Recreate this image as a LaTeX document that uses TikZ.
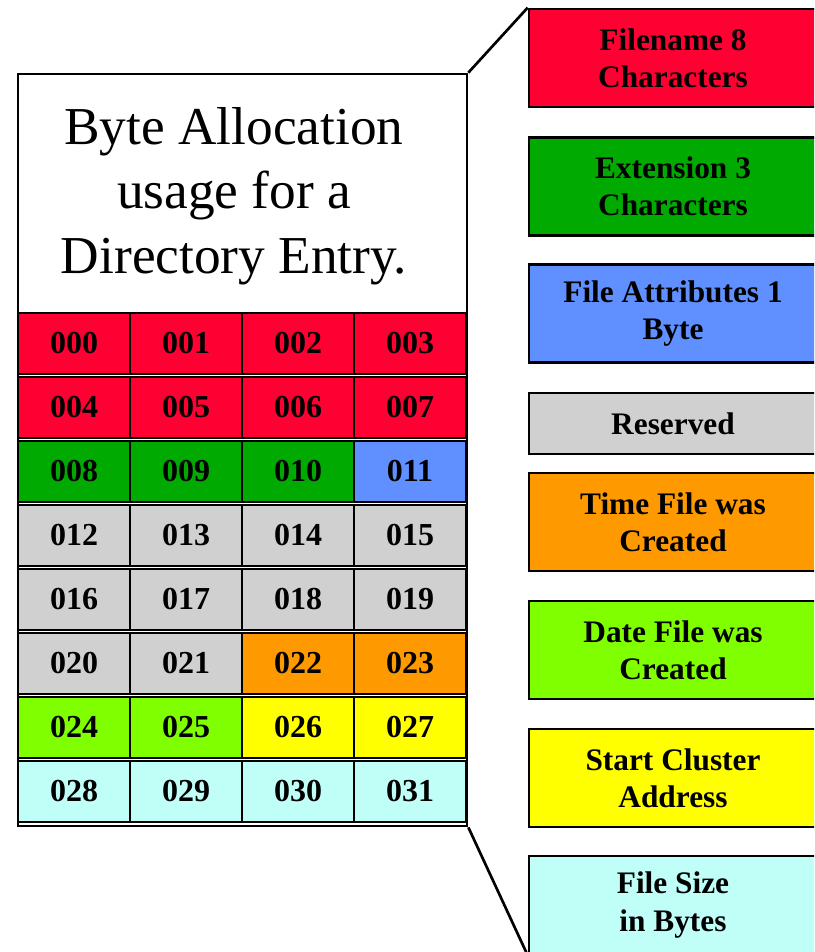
\documentclass[tikz,border=0pt]{standalone}
\usepackage{fontspec}
\setmainfont{Liberation Serif}
\definecolor{cred}{HTML}{FF0033}
\definecolor{cgreen}{HTML}{00AA00}
\definecolor{cblue}{HTML}{6090FF}
\definecolor{cgray}{HTML}{D0D0D0}
\definecolor{corange}{HTML}{FF9900}
\definecolor{clime}{HTML}{80FF00}
\definecolor{cyellow}{HTML}{FFFF00}
\definecolor{ccyan}{HTML}{C0FFF8}
% one byte cell of the directory entry: row, column, fill colour
\newcommand\bytecell[3]{%
  \pgfmathtruncatemacro\bytenum{4*#1+#2}%
  \node[cell, fill=#3] (b\bytenum) at ({74+112*#2}, {343.5+64*#1})
    {\ifnum\bytenum<10 00\else 0\fi\bytenum};%
}
\begin{document}
\begin{tikzpicture}[x=0.75pt, y=-0.75pt, line width=2pt,
  cell/.style={draw=black, minimum width=84pt, minimum height=45.75pt,
    inner sep=0pt, font=\bfseries\fontsize{24}{28}\selectfont},
  info/.style={draw=black, minimum width=216pt, minimum height=73.5pt,
    inner sep=0pt, align=center, font=\bfseries\fontsize{23.5}{28}\selectfont},
  link/.style={draw=black, line width=2pt}]
\useasboundingbox (0,0) rectangle (814,952);
\clip (0,0) rectangle (814,952);

% frame holding the title and the byte grid
\node[draw=black, fill=white, minimum width=336.75pt, minimum height=564pt,
  inner sep=0pt] (outer) at (242.5,450) {};
\node[align=center, font=\fontsize{40}{48.5}\selectfont] (title) at (234,196)
  {Byte Allocation\\usage for a\\Directory Entry.};

% the 32 bytes
\foreach \c in {0,...,3} {\bytecell{0}{\c}{cred}}
\foreach \c in {0,...,3} {\bytecell{1}{\c}{cred}}
\foreach \c in {0,...,2} {\bytecell{2}{\c}{cgreen}}
\bytecell{2}{3}{cblue}
\foreach \c in {0,...,3} {\bytecell{3}{\c}{cgray}}
\foreach \c in {0,...,3} {\bytecell{4}{\c}{cgray}}
\foreach \c in {0,1} {\bytecell{5}{\c}{cgray}}
\foreach \c in {2,3} {\bytecell{5}{\c}{corange}}
\foreach \c in {0,1} {\bytecell{6}{\c}{clime}}
\foreach \c in {2,3} {\bytecell{6}{\c}{cyellow}}
\foreach \c in {0,...,3} {\bytecell{7}{\c}{ccyan}}

% legend boxes
\node[info, fill=cred]    (fname)  at (673,58)  {Filename 8\\Characters};
\node[info, fill=cgreen]  (fext)   at (673,186.5) {Extension 3\\Characters};
\node[info, fill=cblue]   (fattr)  at (673,313.5) {File Attributes 1\\Byte};
\node[info, fill=cgray, minimum height=45.75pt] (fres) at (673,423.5) {Reserved};
\node[info, fill=corange] (ftime)  at (673,522) {Time File was\\Created};
\node[info, fill=clime]   (fdate)  at (673,650) {Date File was\\Created};
\node[info, fill=cyellow] (fclus)  at (673,778) {Start Cluster\\Address};
\node[info, fill=ccyan]   (fsize)  at (673,905) {File Size\\in Bytes};

% lines opening the frame out to the legend
\draw[link] (outer.north east) -- (fname.north west);
\draw[link] (outer.south east) -- (fsize.south west);
\end{tikzpicture}
\end{document}
